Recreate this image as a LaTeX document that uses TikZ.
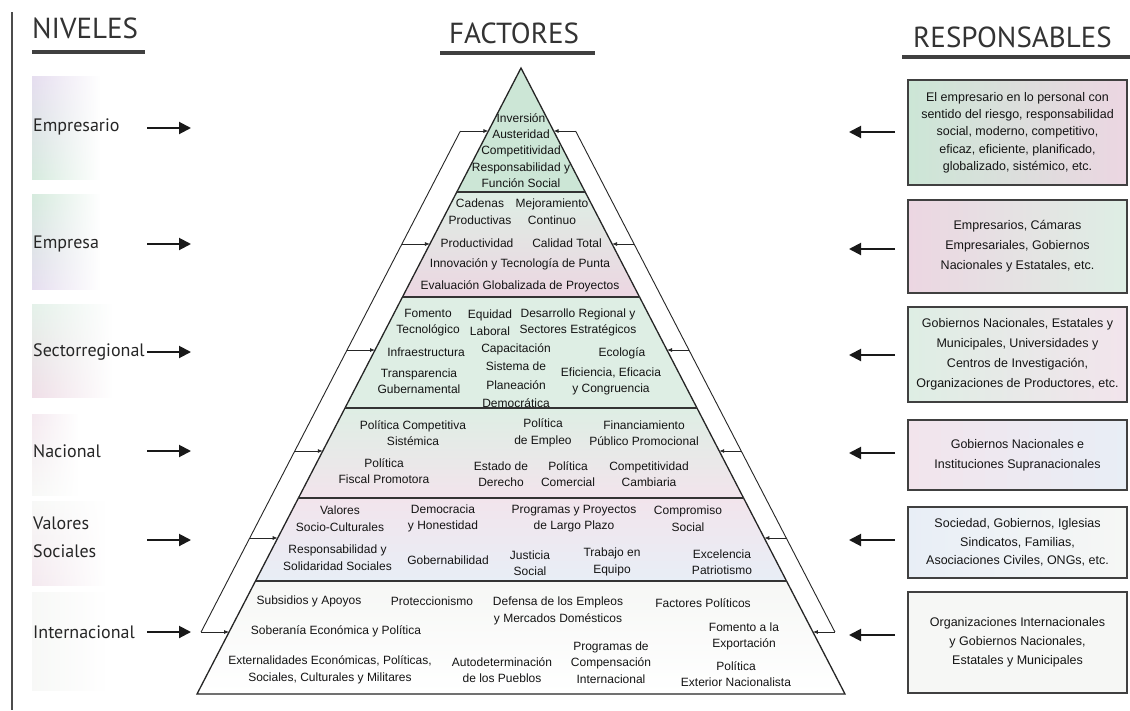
\documentclass[tikz,border=0pt]{standalone}
\usepackage{fontspec}
\setmainfont{Liberation Sans}
\newfontfamily\headfont{PT Sans}
\usetikzlibrary{arrows.meta,fadings}
\definecolor{pg}{RGB}{204,230,214}
\definecolor{pgl}{RGB}{222,238,228}
\definecolor{pp}{RGB}{236,214,226}
\definecolor{ppl}{RGB}{242,228,236}
\definecolor{pl}{RGB}{224,214,236}
\definecolor{pb}{RGB}{216,228,240}
\definecolor{pbl}{RGB}{232,238,246}
\definecolor{pw}{RGB}{246,247,245}
\begin{document}
\begin{tikzpicture}[x=1pt,y=-1pt,
  fac/.style={font=\fontsize{12}{16.5}\selectfont, align=center, inner sep=0pt, text=black!92},
  lvl/.style={font=\headfont\fontsize{18}{28}\selectfont, anchor=west, inner sep=0pt, text=black!85, align=left},
  head/.style={font=\headfont\fontsize{29}{30}\selectfont, inner sep=0pt, text=black!80, anchor=base west},
  uline/.style={line width=3.5pt, black!75},
  bigarrow/.style={-{Triangle[length=12pt,width=12pt]}, line width=2pt, black!90},
  sidearrow/.style={-{Latex[length=5pt,width=4pt]}, line width=0.8pt, black!85},
  resp/.style={draw=black!75, line width=1.4pt, minimum width=219pt, align=center, inner sep=0pt, text=black!92},
  lbg/.style={path fading=east, opacity=0.8}
]
\useasboundingbox (0,0) rectangle (1130,710);
\fill[white] (0,0) rectangle (1130,710);

% left border
\draw[line width=1.5pt, black!70] (12,12) -- (12,710);

% headings
\node[head] (hniv) at (32,38) {NIVELES};
\node[head] (hfac) at (449,43) {FACTORES};
\node[head] (hres) at (913,47) {RESPONSABLES};
\draw[uline] (32,52) -- (145,52);
\draw[uline] (440,53) -- (595,53);
\draw[uline] (902,57) -- (1130,57);

% left label backgrounds
\shade[lbg, top color=pl, bottom color=pg] (32,77) rectangle (100,180);
\shade[lbg, top color=pg, bottom color=pl] (32,195) rectangle (100,290);
\shade[lbg, top color=pgl, bottom color=pp] (32,305) rectangle (112,398);
\shade[lbg, top color=ppl, bottom color=pw] (32,415) rectangle (78,495);
\shade[lbg, top color=pw, bottom color=ppl] (32,502) rectangle (105,585);
\shade[lbg, top color=pw, bottom color=pw] (32,592) rectangle (105,690);

% level labels
\node[lvl] (n1) at (33,127) {Empresario};
\node[lvl] (n2) at (33,244) {Empresa};
\node[lvl] (n3) at (33,352) {Sectorregional};
\node[lvl] (n4) at (33,451) {Nacional};
\node[lvl] (n5) at (33,537) {Valores\\Sociales};
\node[lvl] (n6) at (33,632) {Internacional};

\foreach \i/\y in {1/128,2/244,3/352,4/451,5/540,6/632}{
  \coordinate (la\i) at (147,\y);
  \coordinate (lb\i) at (191,\y);
  \draw[bigarrow] (la\i) -- (lb\i);
}

% pyramid
\coordinate (A) at (521,68);
\coordinate (L1) at (456.8,192); \coordinate (R1) at (585.2,192);
\coordinate (L2) at (402.5,297); \coordinate (R2) at (639.5,297);
\coordinate (L3) at (345.0,408); \coordinate (R3) at (697.0,408);
\coordinate (L4) at (298.4,498); \coordinate (R4) at (743.6,498);
\coordinate (L5) at (255.5,581); \coordinate (R5) at (786.5,581);
\coordinate (L6) at (197,694);   \coordinate (R6) at (845,694);

\shade[top color=pg, middle color=pp, bottom color=pg] (A) -- (R1) -- (L1) -- cycle;
\shade[top color=pgl, middle color=pl, bottom color=pp] (L1) -- (R1) -- (R2) -- (L2) -- cycle;
\shade[top color=pgl, middle color=pp, bottom color=pgl] (L2) -- (R2) -- (R3) -- (L3) -- cycle;
\shade[top color=pgl, bottom color=ppl] (L3) -- (R3) -- (R4) -- (L4) -- cycle;
\shade[top color=ppl, bottom color=pbl] (L4) -- (R4) -- (R5) -- (L5) -- cycle;
\shade[top color=pw, bottom color=white] (L5) -- (R5) -- (R6) -- (L6) -- cycle;

\draw[line width=1.3pt, black!85] (A) -- (L6) -- (R6) -- cycle;
\foreach \k in {1,...,5}{ \draw[line width=1.8pt, black!80] (L\k) -- (R\k); }

% side frame and arrows
\coordinate (pl1) at (488.4,131); \coordinate (ol1) at (460.4,131);
\coordinate (pl2) at (429.9,244); \coordinate (ol2) at (401.9,244);
\coordinate (pl3) at (375.0,350); \coordinate (ol3) at (347.0,350);
\coordinate (pl4) at (322.8,451); \coordinate (ol4) at (294.8,451);
\coordinate (pl5) at (277.7,538); \coordinate (ol5) at (249.7,538);
\coordinate (pl6) at (229.1,632); \coordinate (ol6) at (201.1,632);
\coordinate (pr1) at (553.6,131); \coordinate (or1) at (575.6,131);
\coordinate (pr2) at (612.1,244); \coordinate (or2) at (634.1,244);
\coordinate (pr3) at (667.0,350); \coordinate (or3) at (689.0,350);
\coordinate (pr4) at (719.2,451); \coordinate (or4) at (741.2,451);
\coordinate (pr5) at (764.3,538); \coordinate (or5) at (786.3,538);
\coordinate (pr6) at (812.9,632); \coordinate (or6) at (834.9,632);
\draw[line width=0.9pt, black!85] (ol1) -- (ol6);
\draw[line width=0.9pt, black!85] (or1) -- (or6);
\foreach \k in {1,...,6}{
  \draw[sidearrow] (ol\k) -- (pl\k);
  \draw[sidearrow] (or\k) -- (pr\k);
}

% factors: layer 1
\node[fac, font=\fontsize{12}{16.3}\selectfont] (f1) at (521,150.5) {Inversión\\Austeridad\\Competitividad\\Responsabilidad y\\Función Social};
% layer 2
\node[fac] (f2a) at (480,211.5) {Cadenas\\Productivas};
\node[fac] (f2b) at (552,211.5) {Mejoramiento\\Continuo};
\node[fac] (f2c) at (477,243) {Productividad};
\node[fac] (f2d) at (567,243) {Calidad Total};
\node[fac] (f2e) at (520,264) {Innovación y Tecnología de Punta};
\node[fac] (f2f) at (520,286) {Evaluación Globalizada de Proyectos};
% layer 3
\node[fac] (f3a) at (428,322.5) {Fomento\\Tecnológico};
\node[fac] (f3b) at (490,322.5) {Equidad\\Laboral};
\node[fac] (f3c) at (578,322.5) {Desarrollo Regional y\\Sectores Estratégicos};
\node[fac] (f3d) at (426,352) {Infraestructura};
\node[fac, font=\fontsize{12}{18.5}\selectfont] (f3e) at (516,375.5) {Capacitación\\Sistema de\\Planeación\\Democrática};
\node[fac] (f3f) at (622,353) {Ecología};
\node[fac] (f3g) at (611,381.5) {Eficiencia, Eficacia\\y Congruencia};
\node[fac] (f3h) at (419,381) {Transparencia\\Gubernamental};
% layer 4
\node[fac] (f4a) at (413,433) {Política Competitiva\\Sistémica};
\node[fac] (f4b) at (543,433) {Política\\de Empleo};
\node[fac] (f4c) at (644,433) {Financiamiento\\Público Promocional};
\node[fac] (f4d) at (384,471) {Política\\Fiscal Promotora};
\node[fac] (f4e) at (501,474) {Estado de\\Derecho};
\node[fac] (f4f) at (568,474) {Política\\Comercial};
\node[fac] (f4g) at (649,474) {Competitividad\\Cambiaria};
% layer 5
\node[fac] (f5a) at (340,518.5) {Valores\\Socio-Culturales};
\node[fac] (f5b) at (443,518.5) {Democracia\\y Honestidad};
\node[fac] (f5c) at (574,518.5) {Programas y Proyectos\\de Largo Plazo};
\node[fac] (f5d) at (688,518.5) {Compromiso\\Social};
\node[fac] (f5e) at (337.5,557.5) {Responsabilidad y\\Solidaridad Sociales};
\node[fac] (f5f) at (448,560) {Gobernabilidad};
\node[fac] (f5g) at (530,563) {Justicia\\Social};
\node[fac] (f5h) at (612,562) {Trabajo en\\Equipo};
\node[fac] (f5i) at (722,562) {Excelencia\\Patriotismo};
% layer 6
\node[fac] (f6a) at (309,601) {Subsidios y Apoyos};
\node[fac] (f6b) at (432,601) {Proteccionismo};
\node[fac] (f6c) at (558,611) {Defensa de los Empleos\\y Mercados Domésticos};
\node[fac] (f6d) at (703,603) {Factores Políticos};
\node[fac] (f6e) at (336,631) {Soberanía Económica y Política};
\node[fac] (f6f) at (744,636.5) {Fomento a la\\Exportación};
\node[fac] (f6g) at (330,670) {Externalidades Económicas, Políticas,\\Sociales, Culturales y Militares};
\node[fac] (f6h) at (502,670) {Autodeterminación\\de los Pueblos};
\node[fac] (f6i) at (611,662.5) {Programas de\\Compensación\\Internacional};
\node[fac] (f6j) at (736,674) {Política\\Exterior Nacionalista};

% responsables
\node[resp, minimum height=105pt, left color=pg, right color=pp, font=\fontsize{12.5}{17.3}\selectfont] (r1) at (1017.5,132.5) {El empresario en lo personal con\\sentido del riesgo, responsabilidad\\social, moderno, competitivo,\\eficaz, eficiente, planificado,\\globalizado, sistémico, etc.};
\node[resp, minimum height=93pt, left color=pp, right color=pgl, font=\fontsize{12.5}{20}\selectfont] (r2) at (1017.5,246.5) {Empresarios, Cámaras\\Empresariales, Gobiernos\\Nacionales y Estatales, etc.};
\node[resp, minimum height=95pt, left color=pgl, right color=ppl, font=\fontsize{12.5}{20}\selectfont] (r3) at (1017.5,354.5) {Gobiernos Nacionales, Estatales y\\Municipales, Universidades y\\Centros de Investigación,\\Organizaciones de Productores, etc.};
\node[resp, minimum height=70pt, left color=ppl, right color=pbl, font=\fontsize{12.5}{20}\selectfont] (r4) at (1017.5,455) {Gobiernos Nacionales e\\Instituciones Supranacionales};
\node[resp, minimum height=71pt, left color=pbl, right color=pw, font=\fontsize{12.5}{18.5}\selectfont] (r5) at (1017.5,542.5) {Sociedad, Gobiernos, Iglesias\\Sindicatos, Familias,\\Asociaciones Civiles, ONGs, etc.};
\node[resp, minimum height=101pt, fill=pw, font=\fontsize{12.5}{19}\selectfont] (r6) at (1017.5,642.5) {Organizaciones Internacionales\\y Gobiernos Nacionales,\\Estatales y Municipales};

\foreach \i/\y in {1/132,2/249,3/355,4/453,5/540,6/635}{
  \coordinate (ra\i) at (895,\y);
  \coordinate (rb\i) at (849,\y);
  \draw[bigarrow] (ra\i) -- (rb\i);
}
\end{tikzpicture}
\end{document}
